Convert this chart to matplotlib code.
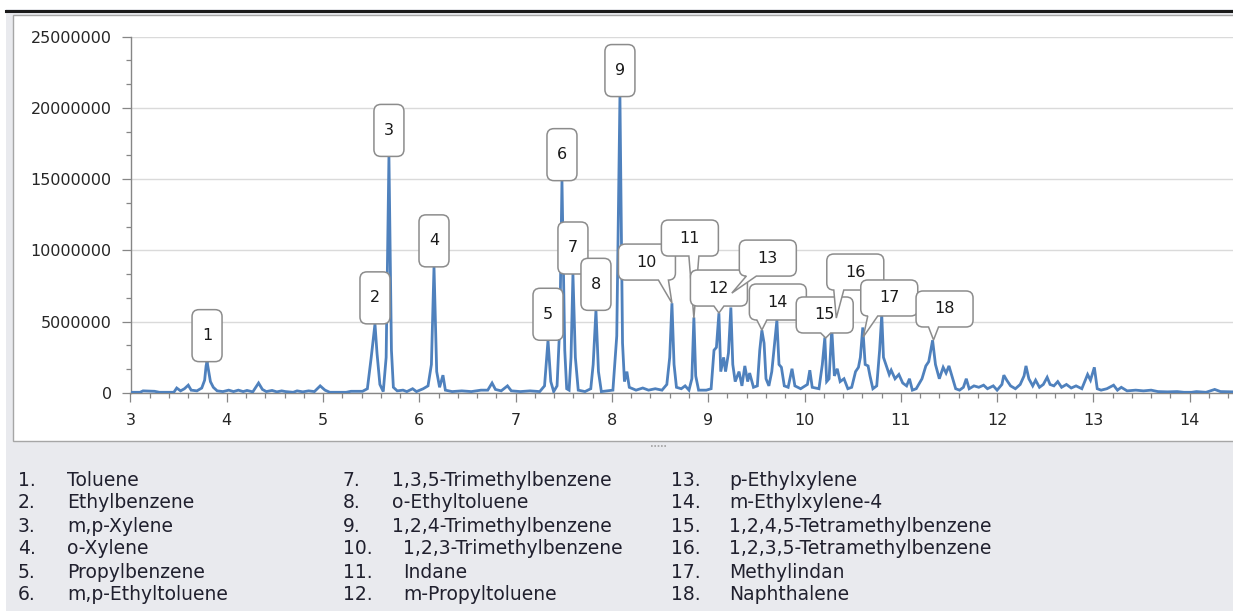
import matplotlib.pyplot as plt
import matplotlib.patches as mpatches
import matplotlib.transforms as mtransforms
from matplotlib.path import Path
from matplotlib.lines import Line2D
from matplotlib.ticker import MultipleLocator, FuncFormatter

# chromatogram trace: retention time (min) and signal (millions of counts)
rt = [3.00, 3.10, 3.13, 3.25, 3.30, 3.45, 3.48, 3.52, 3.56, 3.60, 3.63, 3.69, 3.74, 3.77,
      3.785, 3.795, 3.81, 3.83, 3.86, 3.90, 3.96, 4.02, 4.07, 4.12, 4.17, 4.21, 4.27, 4.33,
      4.37, 4.41, 4.47, 4.52, 4.57, 4.61, 4.69, 4.73, 4.79, 4.85, 4.91, 4.97, 5.02, 5.07,
      5.24, 5.29, 5.41, 5.46, 5.50, 5.539, 5.56, 5.59, 5.625, 5.655, 5.684, 5.71, 5.73, 5.77,
      5.83, 5.87, 5.93, 5.97, 6.04, 6.09, 6.125, 6.152, 6.18, 6.21, 6.245, 6.27, 6.34,
      6.44, 6.54, 6.64, 6.71, 6.755, 6.79, 6.85, 6.915, 6.955, 7.05, 7.15, 7.25, 7.30, 7.336,
      7.365, 7.395, 7.43, 7.46, 7.481, 7.51, 7.53, 7.555, 7.575, 7.595, 7.62, 7.65, 7.72,
      7.78, 7.805, 7.834, 7.86, 7.89, 7.95, 8.01, 8.05, 8.083, 8.11, 8.13, 8.155, 8.18, 8.25,
      8.32, 8.38, 8.45, 8.52, 8.57, 8.60, 8.623, 8.645, 8.67, 8.72, 8.76, 8.80, 8.83, 8.851,
      8.87, 8.90, 8.98, 9.03, 9.06, 9.085, 9.111, 9.13, 9.16, 9.18, 9.21, 9.235, 9.255, 9.28,
      9.32, 9.35, 9.38, 9.41, 9.43, 9.47, 9.51, 9.535, 9.557, 9.58, 9.60, 9.63, 9.66, 9.69,
      9.713, 9.735, 9.76, 9.79, 9.83, 9.87, 9.90,
      9.96, 10.03, 10.055, 10.08, 10.15, 10.185, 10.211, 10.23, 10.255, 10.283, 10.31, 10.34,
      10.37, 10.41, 10.45, 10.49, 10.53, 10.56, 10.58, 10.605, 10.63, 10.66, 10.68, 10.71,
      10.75, 10.78, 10.802, 10.82, 10.85, 10.88, 10.90, 10.94, 10.98, 11.02, 11.06, 11.09,
      11.12, 11.16, 11.22, 11.26, 11.29, 11.33, 11.36, 11.40, 11.44, 11.47, 11.50, 11.54,
      11.57, 11.61, 11.65,
      11.68, 11.71, 11.76, 11.81, 11.86, 11.90, 11.96, 12.00, 12.05, 12.07, 12.10, 12.14,
      12.19, 12.24, 12.28, 12.30, 12.33, 12.37, 12.40, 12.44, 12.48, 12.52, 12.55, 12.59,
      12.63, 12.67, 12.72, 12.77, 12.82, 12.88, 12.94, 12.97, 13.01, 13.04, 13.08, 13.14,
      13.21, 13.25, 13.29, 13.35, 13.44, 13.52, 13.60, 13.67, 13.77, 13.87, 13.94, 14.02,
      14.07, 14.17, 14.26, 14.32, 14.45]
signal_mil = [0.05, 0.05, 0.15, 0.12, 0.05, 0.05, 0.35, 0.15, 0.30, 0.55, 0.20, 0.15, 0.35, 0.9,
              1.9, 2.2, 1.6, 0.8, 0.4, 0.15, 0.10, 0.20, 0.10, 0.20, 0.10, 0.18, 0.08, 0.70,
              0.25, 0.10, 0.18, 0.08, 0.15, 0.10, 0.05, 0.15, 0.08, 0.15, 0.10, 0.50, 0.20, 0.05,
              0.05, 0.12, 0.12, 0.30, 2.5, 4.85, 2.8, 0.6, 0.1, 2.5, 16.6, 3.0, 0.4, 0.15,
              0.2, 0.1, 0.3, 0.1, 0.3, 0.5, 2.0, 8.85, 1.5, 0.4, 1.25, 0.2, 0.1,
              0.15, 0.10, 0.20, 0.20, 0.70, 0.25, 0.15, 0.50, 0.15, 0.10, 0.15, 0.10, 0.50, 3.7,
              0.8, 0.1, 0.5, 5.0, 14.9, 3.0, 0.3, 0.2, 2.5, 8.35, 2.5, 0.2, 0.1,
              0.3, 2.0, 5.8, 1.5, 0.1, 0.15, 0.2, 4.0, 20.8, 3.5, 0.8, 1.5, 0.4, 0.2,
              0.35, 0.2, 0.3, 0.2, 0.6, 2.5, 6.3, 2.0, 0.4, 0.3, 0.5, 0.2, 1.0, 5.3,
              1.2, 0.2, 0.2, 0.3, 3.0, 3.2, 5.6, 1.5, 2.5, 1.5, 2.8, 6.0, 2.0, 0.8,
              1.5, 0.5, 1.9, 0.8, 1.4, 0.4, 0.5, 3.0, 4.4, 3.5, 1.0, 0.5, 1.5, 3.5,
              5.1, 2.0, 1.8, 0.5, 0.4, 1.7, 0.5,
              0.3, 0.6, 1.6, 0.4, 0.3, 2.0, 3.9, 0.8, 1.0, 4.5, 1.2, 1.7,
              0.8, 1.0, 0.3, 0.4, 1.5, 1.8, 2.5, 4.6, 2.0, 1.9, 1.2, 0.3,
              0.5, 3.0, 5.5, 2.5, 1.9, 1.3, 1.6, 1.0, 1.3, 0.7, 0.5, 1.0,
              0.2, 0.3, 1.0, 1.9, 2.2, 3.7, 2.0, 1.0, 1.8, 1.4, 1.9, 1.0,
              0.3, 0.2, 0.4,
              1.0, 0.3, 0.5, 0.4, 0.55, 0.3, 0.5, 0.2, 0.6, 1.25, 0.9, 0.5,
              0.3, 0.6, 1.2, 1.9, 1.0, 0.5, 0.9, 0.4, 0.6, 1.1, 0.6, 0.5,
              0.8, 0.4, 0.6, 0.35, 0.5, 0.3, 1.3, 0.9, 1.8, 0.3, 0.2, 0.3,
              0.55, 0.2, 0.4, 0.15, 0.2, 0.15, 0.2, 0.1, 0.08, 0.1, 0.05, 0.05,
              0.1, 0.05, 0.25, 0.1, 0.08]

# callout anchors (where each numbered label points)
label_rt = [3.795, 5.539, 5.684, 6.152, 7.336, 7.481, 7.595, 7.834, 8.083,
            8.623, 8.851, 9.111, 9.245, 9.557, 10.22, 10.33, 10.61, 11.34]
label_sig_mil = [2.2, 4.85, 16.6, 8.85, 3.7, 14.9, 8.35, 5.8, 20.8,
                 6.31, 5.26, 5.61, 7.01, 4.42, 3.86, 5.26, 3.93, 3.72]

compounds = ["Toluene", "Ethylbenzene", "m,p-Xylene", "o-Xylene", "Propylbenzene",
             "m,p-Ethyltoluene", "1,3,5-Trimethylbenzene", "o-Ethyltoluene",
             "1,2,4-Trimethylbenzene", "1,2,3-Trimethylbenzene", "Indane",
             "m-Propyltoluene", "p-Ethylxylene", "m-Ethylxylene-4",
             "1,2,4,5-Tetramethylbenzene", "1,2,3,5-Tetramethylbenzene",
             "Methylindan", "Naphthalene"]

# box centre offsets from the anchor, in pixels
box_dx = [0, 0, 0, 0, 0, 0, 0, 0, 0, -25, -4, 0, 36, 16, -1, 19, 26, 11]
box_dy = [26, 26, 26, 26, 26, 26, 26, 26, 26, 41, 80, 25, 35, 28, 23, 46, 39, 31]

W, H = 1233, 611
BLUE = '#4F81BD'
AXC = '#868686'

fig = plt.figure(figsize=(W / 100, H / 100), dpi=100, facecolor='#E9EAEE')


def fx(px):
    return px / W


def fy(py):
    return 1 - py / H


# window chrome, kept behind the axes
fig.add_artist(mpatches.Rectangle((0, fy(9)), 1, 9 / H, transform=fig.transFigure,
                                  facecolor='white', edgecolor='none', zorder=-3))
fig.add_artist(mpatches.Rectangle((0, 0), fx(6), 1, transform=fig.transFigure,
                                  facecolor='white', edgecolor='none', zorder=-3))
fig.add_artist(Line2D([fx(6), 1], [fy(11), fy(11)], transform=fig.transFigure,
                      color='#1a1a1a', lw=2.2, zorder=-2))
fig.add_artist(mpatches.Rectangle((fx(13), fy(441)), 1, (441 - 15) / H, transform=fig.transFigure,
                                  facecolor='white', edgecolor='#a6a6a6', lw=1, zorder=-2))
fig.add_artist(Line2D([fx(651), fx(667)], [fy(446), fy(446)], transform=fig.transFigure,
                      color='#a0a0a0', lw=1.2, ls=(0, (1, 1)), zorder=-2))

ax = fig.add_axes([fx(130.5), fy(393), (W - 130.5) / W, (393 - 36.7) / H])
ax.patch.set_visible(False)
ax.plot(rt, [v * 1e6 for v in signal_mil], color=BLUE, lw=2.0, zorder=3,
        solid_joinstyle='miter')
ax.set_xlim(3, 14.45)
ax.set_ylim(0, 25e6)

ax.xaxis.set_major_locator(MultipleLocator(1))
ax.xaxis.set_minor_locator(MultipleLocator(0.2))
ax.yaxis.set_major_locator(MultipleLocator(5e6))
ax.yaxis.set_minor_locator(MultipleLocator(5e6 / 3))
ax.yaxis.set_major_formatter(FuncFormatter(lambda v, p: f'{v:.0f}'))
ax.tick_params(which='both', direction='out', color=AXC, width=0.9,
               labelsize=11.5, labelcolor='#262626')
ax.tick_params(which='major', length=6.5)
ax.tick_params(which='minor', length=3.5)
ax.tick_params(axis='y', pad=7)
ax.tick_params(axis='x', pad=8)
ax.yaxis.grid(True, color='#dadada', lw=1)
ax.set_axisbelow(True)
for s in ['top', 'right']:
    ax.spines[s].set_visible(False)
for s in ['left', 'bottom']:
    ax.spines[s].set_color(AXC)
    ax.spines[s].set_linewidth(1)


def callout_path(cx, cy, w, h, r=7, base=5):
    x0, x1 = cx - w / 2, cx + w / 2
    y0, y1 = cy - h / 2, cy + h / 2
    verts, codes = [(x0 + r, y0)], [Path.MOVETO]
    if y0 > 1:
        bx = min(max(0, x0 + r + base), x1 - r - base)
        verts += [(bx - base, y0), (0, 0), (bx + base, y0)]
        codes += [Path.LINETO] * 3
    verts += [(x1 - r, y0), (x1, y0), (x1, y0 + r),
              (x1, y1 - r), (x1, y1), (x1 - r, y1),
              (x0 + r, y1), (x0, y1), (x0, y1 - r),
              (x0, y0 + r), (x0, y0), (x0 + r, y0), (x0 + r, y0)]
    codes += [Path.LINETO, Path.CURVE3, Path.CURVE3,
              Path.LINETO, Path.CURVE3, Path.CURVE3,
              Path.LINETO, Path.CURVE3, Path.CURVE3,
              Path.LINETO, Path.CURVE3, Path.CURVE3, Path.CLOSEPOLY]
    return Path(verts, codes)


for i in range(len(label_rt)):
    tr = mtransforms.ScaledTranslation(label_rt[i], label_sig_mil[i] * 1e6, ax.transData)
    w, h = (30, 52) if i < 9 else (57, 36)
    patch = mpatches.PathPatch(callout_path(box_dx[i], box_dy[i], w, h), transform=tr,
                               facecolor='white', edgecolor='#8c8c8c', lw=1.1,
                               zorder=5 + i * 0.01, clip_on=False)
    ax.add_patch(patch)
    ax.text(box_dx[i], box_dy[i], str(i + 1), transform=tr, ha='center', va='center',
            fontsize=11.5, color='#1a1a1a', zorder=5 + i * 0.01 + 0.005, clip_on=False)

# compound list below the chart
num_x = [18, 343, 671]
name_x = [67, 392, 729]
for i, name in enumerate(compounds):
    col, row = divmod(i, 6)
    yy = fy(480 + 23 * row)
    nx = name_x[col] + (11 if (col == 1 and i >= 9) else 0)
    fig.text(fx(num_x[col]), yy, f'{i + 1}.', fontsize=13.5, color='#20202e', va='center')
    fig.text(fx(nx), yy, name, fontsize=13.5, color='#20202e', va='center')

fig.savefig('out.png', dpi=100, facecolor=fig.get_facecolor())
